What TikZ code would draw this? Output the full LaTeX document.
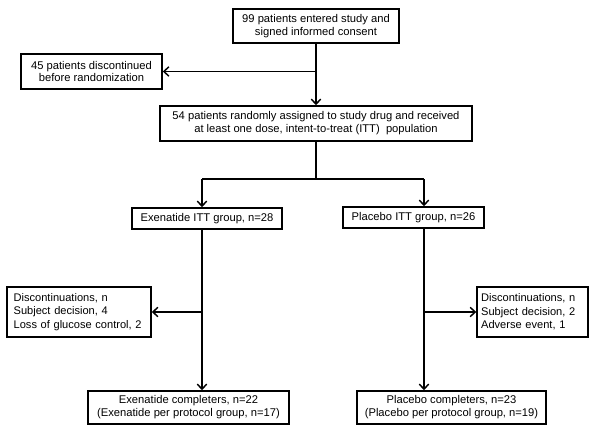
\documentclass[tikz,border=0pt]{standalone}
\usepackage{fontspec}
\setmainfont{Liberation Sans}
\usetikzlibrary{arrows.meta}
\tikzset{every picture/.style={line width=1.1pt}}

\begin{document}
\begin{tikzpicture}[x=0.75pt,y=0.75pt,yscale=-1,xscale=1,
  box/.style={draw, inner sep=0pt, align=center, font=\fontsize{8.4}{9.7}\selectfont},
  listbox/.style={box, align=left, minimum height=37.5pt, font=\fontsize{8.3}{10}\selectfont},
  arr/.style={-{Straight Barb[length=3.8pt,width=7pt]}}]
%set diagram to 600 x 439
\useasboundingbox (0,0) rectangle (600,439);

% Text Node
\node [box, minimum width=124.5pt, minimum height=25.5pt] (consent) at (316,26) {99 patients entered study and\\signed informed consent};
% Text Node
\node [box, minimum width=105.75pt, minimum height=26.25pt] (prerand) at (91.5,71.5) {45 patients discontinued\\before randomization};
% Text Node
\node [box, minimum width=234pt, minimum height=26.25pt] (itt) at (316,123.5) {54 patients randomly assigned to study drug and received\\at least one dose, intent-to-treat (ITT)\ \ population};
% Text Node
\node [box, minimum width=112.5pt, minimum height=15.75pt] (exitt) at (207,218.5) {Exenatide ITT group, n=28};
% Text Node
\node [box, minimum width=105.75pt, minimum height=15.75pt] (plitt) at (413.5,217.5) {Placebo ITT group, n=26};
% Text Node
\node [listbox, text width=98pt, inner xsep=5pt] (exdisc) at (79,312) {Discontinuations, n\\Subject decision, 4\\Loss of glucose control, 2};
% Text Node
\node [listbox, text width=77pt, inner xsep=3.1pt] (pldisc) at (532.5,312) {Discontinuations, n\\Subject decision, 2\\Adverse event, 1};
% Text Node
\node [box, minimum width=150.75pt, minimum height=24.75pt] (excomp) at (188.5,407.5) {Exenatide completers, n=22\\(Exenatide per protocol group, n=17)};
% Text Node
\node [box, minimum width=141.75pt, minimum height=24.75pt] (plcomp) at (451.5,407.5) {Placebo completers, n=23\\(Placebo per protocol group, n=19)};

%Straight Lines
\coordinate (fork) at (316,179);
\coordinate (exlane) at (202,179);
\coordinate (pllane) at (424,179);
\draw [arr] (consent) -- (itt);
\draw [arr] (consent |- prerand.east) -- (prerand.east);
\draw (itt.south) -- (fork);
\draw (exlane) -- (pllane);
\draw [arr] (exlane) -- (exlane |- exitt.north);
\draw [arr] (pllane) -- (pllane |- plitt.north);
\draw [arr] (exlane |- exitt.south) -- (exlane |- excomp.north);
\draw [arr] (pllane |- plitt.south) -- (pllane |- plcomp.north);
\draw [arr] (exlane |- exdisc.east) -- (exdisc.east);
\draw [arr] (pllane |- pldisc.west) -- (pldisc.west);

\end{tikzpicture}
\end{document}
